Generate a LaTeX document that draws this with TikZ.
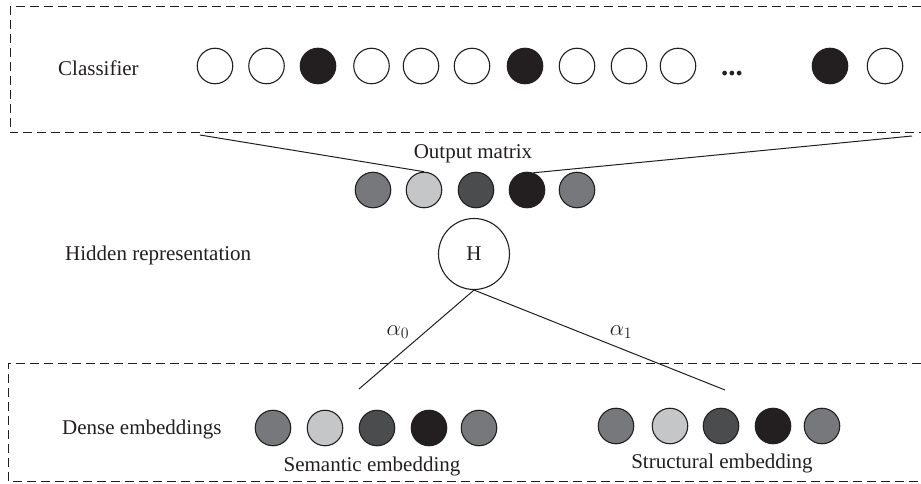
\documentclass[tikz,border=0pt]{standalone}
\usepackage{fontspec}
\setmainfont{Liberation Serif}
\definecolor{ink}{HTML}{231F20}
\definecolor{gmid}{HTML}{77787B}
\definecolor{glight}{HTML}{C5C6C8}
\definecolor{gdark}{HTML}{4B4C4E}
\definecolor{gblack}{HTML}{231F20}
\tikzset{
  lbl/.style={font=\fontsize{21}{25}\selectfont, text=ink, inner sep=0pt},
  unit/.style={circle, draw=ink, line width=1.1pt, minimum size=35.5pt, inner sep=0pt},
  empty/.style={unit, fill=white},
  full/.style={unit, fill=gblack},
  frame/.style={draw=ink, line width=1pt, dash pattern=on 9pt off 5pt},
  link/.style={draw=ink, line width=1pt},
}
\begin{document}
\begin{tikzpicture}[x=1pt, y=-1pt]
\clip (0,0) rectangle (921,484);
\fill[white] (0,0) rectangle (921,484);

% dashed groups (open to the right)
\draw[frame] (935,7) -- (10,7) -- (10,133) -- (935,133);
\draw[frame] (935,363) -- (8,363) -- (8,481) -- (935,481);

% classifier row
\node[lbl, anchor=west] (clf) at (58,68) {Classifier};
\node[empty] (c1) at (215,66) {};
\node[empty] (c2) at (266.5,66) {};
\node[full]  (c3) at (318,66) {};
\node[empty] (c4) at (371.5,66) {};
\node[empty] (c5) at (421,66) {};
\node[empty] (c6) at (472,66) {};
\node[full]  (c7) at (525,66) {};
\node[empty] (c8) at (577,66) {};
\node[empty] (c9) at (629,66) {};
\node[empty] (c10) at (678,66) {};
\node[lbl, font=\fontsize{29}{32}\selectfont\bfseries, anchor=base] (dots) at (732,76) {...};
\node[full]  (c11) at (830,66) {};
\node[empty] (c12) at (885,66) {};

% output matrix
\node[lbl] (outlbl) at (473,154) {Output matrix};
\node[unit, fill=gmid]   (o1) at (373,190) {};
\node[unit, fill=glight] (o2) at (424,190) {};
\node[unit, fill=gdark]  (o3) at (476,190) {};
\node[unit, fill=gblack] (o4) at (527,190) {};
\node[unit, fill=gmid]   (o5) at (577,190) {};

\coordinate (fanL) at (200,135);
\coordinate (fanR) at (912,136);
\draw[link] (fanL) -- (o2.north);
\draw[link] (fanR) -- (o4.70);

% hidden representation
\node[lbl, anchor=west] (hidlbl) at (65,255) {Hidden representation};
\node[circle, draw=ink, line width=1.1pt, minimum size=71pt, inner sep=0pt, fill=white, lbl] (H) at (474,254) {H};

\coordinate (semTop) at (359,389);
\coordinate (strTop) at (725,390);
\draw[link] (H.south) -- (semTop);
\draw[link] (H.south) -- (strTop);
\node[lbl, scale=1.1] (a0) at (398,332) {$\alpha_0$};
\node[lbl, scale=1.1] (a1) at (621,332) {$\alpha_1$};

% dense embeddings
\node[lbl, anchor=west] (denselbl) at (62,429) {Dense embeddings};
\node[unit, fill=gmid]   (s1) at (273,428) {};
\node[unit, fill=glight] (s2) at (325,428) {};
\node[unit, fill=gdark]  (s3) at (377,428) {};
\node[unit, fill=gblack] (s4) at (429,428) {};
\node[unit, fill=gmid]   (s5) at (479,428) {};
\node[lbl] (semlbl) at (372,466) {Semantic embedding};

\node[unit, fill=gmid]   (t1) at (616,426) {};
\node[unit, fill=glight] (t2) at (670,426) {};
\node[unit, fill=gdark]  (t3) at (721,426) {};
\node[unit, fill=gblack] (t4) at (773,426) {};
\node[unit, fill=gmid]   (t5) at (822,426) {};
\node[lbl] (strlbl) at (722,463) {Structural embedding};
\end{tikzpicture}
\end{document}
